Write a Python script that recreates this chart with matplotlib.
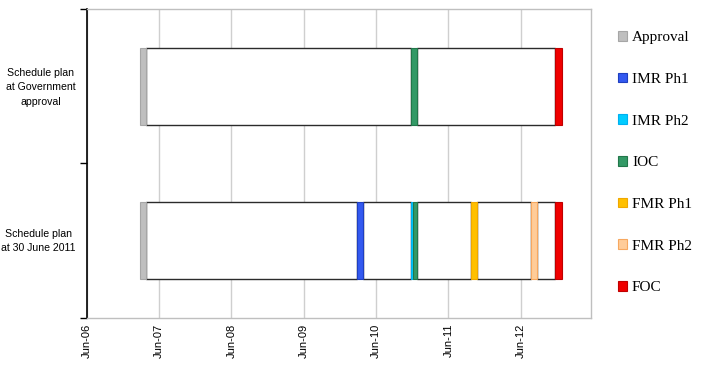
import matplotlib
matplotlib.use("Agg")
import matplotlib.pyplot as plt
import matplotlib.dates as mdates
from matplotlib.patches import Patch
import datetime as dt

# ---- data ----
categories = ["Schedule plan\nat 30 June 2011", "Schedule plan\nat Government\napproval"]
milestones = ["Approval", "IMR Ph1", "IMR Ph2", "IOC", "FMR Ph1", "FMR Ph2", "FOC"]
colors = ["#BFBFBF", "#3359F0", "#00CCFF", "#339966", "#FFC000", "#FFCC99", "#F00000"]
edge_colors = ["#A6A6A6", "#1F3FC0", "#00B0F0", "#22774A", "#F0A800", "#F7A860", "#C00000"]

# milestone start / end dates per plan (None = milestone not in plan)
jun11_start = ["2007-02-25", "2010-02-23", "2010-11-23", "2010-12-06", "2011-09-25", "2012-07-24", "2012-11-23"]
jun11_end = ["2007-03-27", "2010-03-27", "2010-12-06", "2010-12-24", "2011-10-22", "2012-08-24", "2012-12-24"]
gov_start = ["2007-02-25", None, None, "2010-11-26", None, None, "2012-11-23"]
gov_end = ["2007-03-27", None, None, "2010-12-24", None, None, "2012-12-24"]

plans = [(jun11_start, jun11_end), (gov_start, gov_end)]

tick_years = [2006, 2007, 2008, 2009, 2010, 2011, 2012]
x_min = "2006-06-01"
x_max = "2013-05-22"


def d(s):
    return mdates.date2num(dt.datetime.strptime(s, "%Y-%m-%d"))


fig = plt.figure(figsize=(7.27, 3.67), dpi=100)
ax = fig.add_axes([0.1193, 0.1335, 0.8130 - 0.1193, 0.9755 - 0.1335])

bar_h = 0.5
for yi, (starts, ends) in enumerate(plans):
    y = yi + 0.5
    present = [(i, d(s), d(e)) for i, (s, e) in enumerate(zip(starts, ends)) if s is not None]
    # white spans between milestones
    for (i0, s0, e0), (i1, s1, e1) in zip(present[:-1], present[1:]):
        ax.barh(y, s1 - e0, left=e0, height=bar_h, color="white",
                edgecolor="#2B2B2B", linewidth=1.0, zorder=3)
    # milestone bars
    for i, s, e in present:
        ax.barh(y, e - s, left=s, height=bar_h, color=colors[i],
                edgecolor=edge_colors[i], linewidth=0.8, zorder=4)

ax.set_xlim(d(x_min), d(x_max))
ax.set_ylim(0, 2)

xt = [d(f"{yr}-06-01") for yr in tick_years]
ax.set_xticks(xt)
ax.set_xticklabels([f"Jun-{yr % 100:02d}" for yr in tick_years], rotation=90,
                   fontsize=8, family=["Liberation Sans", "DejaVu Sans"])
ax.tick_params(axis="x", length=0, pad=4)
ax.xaxis.grid(True, color="#CFCFCF", linewidth=1.0, zorder=0)
ax.set_axisbelow(True)

ax.set_yticks([0, 1, 2])
ax.set_yticklabels([])
ax.tick_params(axis="y", which="major", length=5, width=1.0, color="black", direction="out")
ax.set_yticks([0.52, 1.515], minor=True)
ax.set_yticklabels(categories, minor=True, fontsize=7.6, family=["Liberation Sans", "DejaVu Sans"])
ax.tick_params(axis="y", which="minor", length=0, pad=8)
for lab in ax.get_yticklabels(minor=True):
    lab.set_multialignment("center")
    lab.set_linespacing(1.55)

for side in ["top", "right", "bottom"]:
    ax.spines[side].set_color("#BFBFBF")
    ax.spines[side].set_linewidth(1.0)
ax.spines["left"].set_color("black")
ax.spines["left"].set_linewidth(1.2)

handles = [Patch(facecolor=c, edgecolor=ec, linewidth=0.8, label=m)
           for m, c, ec in zip(milestones, colors, edge_colors)]
fig.legend(handles=handles, loc="upper left", bbox_to_anchor=(0.842, 0.932),
           frameon=False, prop={"family": "Liberation Serif", "size": 11},
           handlelength=0.6, handleheight=0.6, handletextpad=0.3,
           labelspacing=1.86, borderaxespad=0)

fig.savefig("out.png", dpi=100)
